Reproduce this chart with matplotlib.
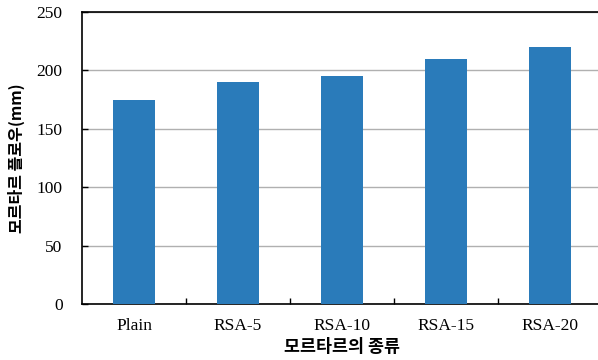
import matplotlib.pyplot as plt

categories = ['Plain', 'RSA-5', 'RSA-10', 'RSA-15', 'RSA-20']
flow_mm = [175, 190, 195, 210, 220]
y_ticks = [0, 50, 100, 150, 200, 250]

fig = plt.figure(figsize=(5.98, 3.6), dpi=100)
ax = fig.add_axes([82 / 598, 56 / 360, 520 / 598, 292 / 360])

x = range(len(categories))
ax.bar(x, flow_mm, width=0.4, color='#2a7bba', zorder=3)

ax.set_xlim(-0.5, len(categories) - 0.5)
ax.set_ylim(0, 250)
ax.set_yticks(y_ticks)
ax.set_yticklabels([str(v) for v in y_ticks], family='Liberation Serif', fontsize=12.5)
ax.set_xticks(list(x))
ax.set_xticklabels(categories, family='Liberation Serif', fontsize=12.5)
ax.tick_params(axis='x', length=0, pad=10)
ax.set_xticks([i + 0.5 for i in range(len(categories) - 1)], minor=True)
ax.tick_params(axis='x', which='minor', direction='in', length=4, width=1)
ax.tick_params(axis='y', direction='in', length=4, width=1, pad=14)

ax.grid(axis='y', color='#b0b0b0', linewidth=1, zorder=0)
for s in ax.spines.values():
    s.set_linewidth(1.2)
ax.spines['right'].set_visible(False)

ax.set_ylabel('모르타르 플로우(mm)', family=['Noto Sans CJK KR', 'DejaVu Sans'],
              fontsize=11.5, fontweight='bold', labelpad=8)
ax.set_xlabel('모르타르의 종류', family=['Noto Sans CJK KR', 'DejaVu Sans'],
              fontsize=12.5, fontweight='bold', labelpad=3)

fig.savefig('out.png', dpi=100)
